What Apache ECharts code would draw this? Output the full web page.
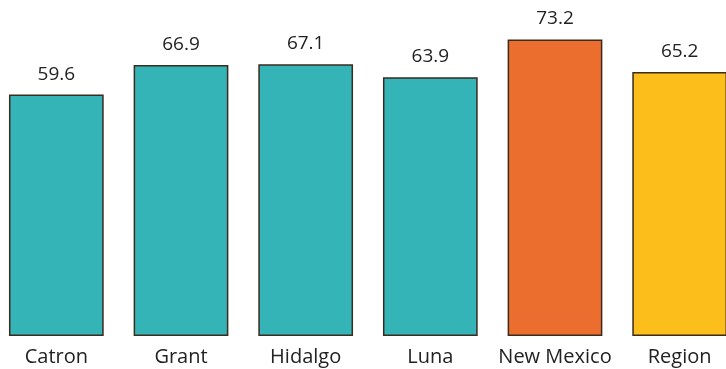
<!DOCTYPE html>
<html>
<head>
<meta charset="utf-8">
<script src="https://cdn.jsdelivr.net/npm/echarts@6/dist/echarts.min.js"></script>
<style>
  html, body { margin: 0; padding: 0; background: #fff; overflow: hidden; }
  #wrap { width: 726px; height: 369px; overflow: hidden; position: relative; }
  #chart { width: 748px; height: 369px; position: absolute; left: -6px; top: 0; }
</style>
</head>
<body>
<div id="wrap"><div id="chart"></div></div>
<script>
// Counties and comparison areas
const categories = ['Catron', 'Grant', 'Hidalgo', 'Luna', 'New Mexico', 'Region'];
const values = [59.6, 66.9, 67.1, 63.9, 73.2, 65.2];
const barColors = ['#35B4B8', '#35B4B8', '#35B4B8', '#35B4B8', '#EB6E2E', '#FBBE1A'];

const fontFamily = '"Open Sans", "Noto Sans", sans-serif';

const chart = echarts.init(document.getElementById('chart'), null, { renderer: 'canvas' });
chart.setOption({
  animation: false,
  grid: { left: 0, right: 0, top: 12, height: 324, containLabel: false },
  xAxis: {
    type: 'category',
    data: categories,
    axisLine: { show: false },
    axisTick: { show: false },
    axisLabel: { interval: 0, color: '#222', fontSize: 20, fontFamily: fontFamily, margin: 11 }
  },
  yAxis: {
    type: 'value',
    min: 0,
    max: 80,
    show: false
  },
  series: [{
    type: 'bar',
    barCategoryGap: '24%',
    data: values.map((v, i) => ({
      value: v,
      itemStyle: { color: barColors[i], borderColor: '#3b2a1e', borderWidth: 1.5 }
    })),
    label: {
      show: true,
      position: 'top',
      distance: 11,
      color: '#222',
      fontSize: 19,
      fontFamily: fontFamily,
      formatter: p => p.value.toFixed(1)
    }
  }]
});
</script>
</body>
</html>
